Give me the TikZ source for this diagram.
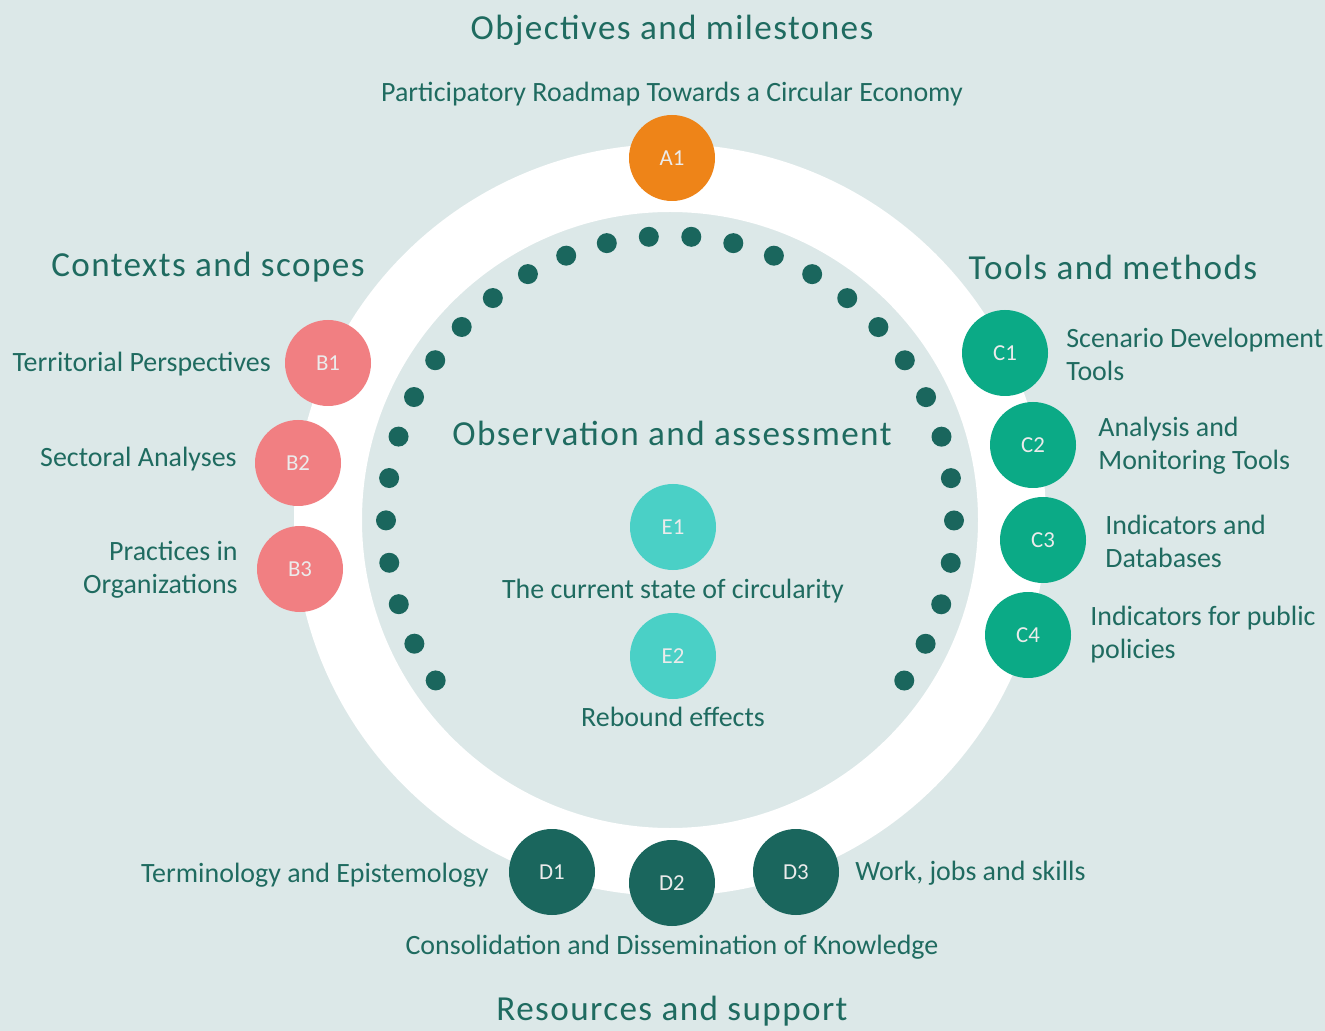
\documentclass[tikz,border=0pt]{standalone}
\usepackage{fontspec}
\setmainfont{Carlito}
\newfontfamily\titlefont[LetterSpace=4]{Carlito}
\usepackage{xcolor}
\usepackage{tikz}
\usetikzlibrary{positioning, calc}
\definecolor{bgcol}{HTML}{DCE8E8}
\definecolor{textcol}{HTML}{1F6B60}
\definecolor{orangecol}{HTML}{EE8418}
\definecolor{pinkcol}{HTML}{F17F82}
\definecolor{greencol}{HTML}{0BAA86}
\definecolor{darkcol}{HTML}{1A665D}
\definecolor{turqcol}{HTML}{4AD0C6}

\begin{document}
\begin{tikzpicture}
% Define styles
\tikzstyle{disc} = [circle, minimum size=1.72cm, inner sep=0pt, text=white!92!black, font=\fontsize{13}{15}\selectfont]
\tikzstyle{label} = [text=textcol, inner sep=0pt, font=\fontsize{15.9}{18.8}\selectfont]
\tikzstyle{heading} = [text=textcol, inner sep=0pt, font=\titlefont\fontsize{20}{24}\selectfont]
% Background and ring
\fill[bgcol] (0,0) rectangle (26.5,-20.62);
\useasboundingbox (0,0) rectangle (26.5,-20.62);
\coordinate (centre) at (13.4,-10.4);
\fill[white, even odd rule] (centre) circle (7.52) (centre) circle (6.16);
% Dots
\foreach \i in {0,...,29}
  \fill[darkcol] ($(centre)+({214.4-\i*8.58}:5.68)$) circle (0.2);
% Define nodes
\node[disc, fill=orangecol] (A1) at (13.44,-3.16) {A1};
\node[disc, fill=pinkcol] (B1) at (6.56,-7.26) {B1};
\node[disc, fill=pinkcol] (B2) at (5.96,-9.26) {B2};
\node[disc, fill=pinkcol] (B3) at (6.00,-11.38) {B3};
\node[disc, fill=greencol] (C1) at (20.10,-7.06) {C1};
\node[disc, fill=greencol] (C2) at (20.66,-8.90) {C2};
\node[disc, fill=greencol] (C3) at (20.86,-10.80) {C3};
\node[disc, fill=greencol] (C4) at (20.56,-12.70) {C4};
\node[disc, fill=darkcol] (D1) at (11.04,-17.44) {D1};
\node[disc, fill=darkcol] (D2) at (13.44,-17.66) {D2};
\node[disc, fill=darkcol] (D3) at (15.92,-17.44) {D3};
\node[disc, fill=turqcol] (E1) at (13.46,-10.54) {E1};
\node[disc, fill=turqcol] (E2) at (13.46,-13.12) {E2};

% Headings
\node[heading] (head_a) at (13.44,-0.60) {Objectives and milestones};
\node[heading] (head_b) at (4.16,-5.34) {Contexts and scopes};
\node[heading] (head_c) at (22.26,-5.34) {Tools and methods};
\node[heading] (head_e) at (13.44,-8.66) {Observation and assessment};
\node[heading] (head_d) at (13.44,-20.22) {Resources and support};

% Labels
\node[label] (lab_a) at (13.44,-1.88) {Participatory Roadmap Towards a Circular Economy};
\node[label, anchor=east] (lab_b1) at (5.42,-7.28) {Territorial Perspectives};
\node[label, anchor=east] (lab_b2) at (4.74,-9.18) {Sectoral Analyses};
\node[label, anchor=east, align=right] (lab_b3) at (4.76,-11.40) {Practices in\\Organizations};
\node[label, anchor=west, align=left] (lab_c1) at (21.32,-7.08) {Scenario Development\\Tools};
\node[label, anchor=west, align=left] (lab_c2) at (21.96,-8.92) {Analysis and\\Monitoring Tools};
\node[label, anchor=west, align=left] (lab_c3) at (22.10,-10.82) {Indicators and\\Databases};
\node[label, anchor=west, align=left] (lab_c4) at (21.80,-12.70) {Indicators for public\\policies};
\node[label] (lab_e1) at (13.46,-11.82) {The current state of circularity};
\node[label] (lab_e2) at (13.46,-14.34) {Rebound effects};
\node[label, anchor=east] (lab_d1) at (9.78,-17.50) {Terminology and Epistemology};
\node[label, anchor=west] (lab_d3) at (17.10,-17.46) {Work, jobs and skills};
\node[label] (lab_d2) at (13.44,-18.94) {Consolidation and Dissemination of Knowledge};

\end{tikzpicture}
\end{document}
